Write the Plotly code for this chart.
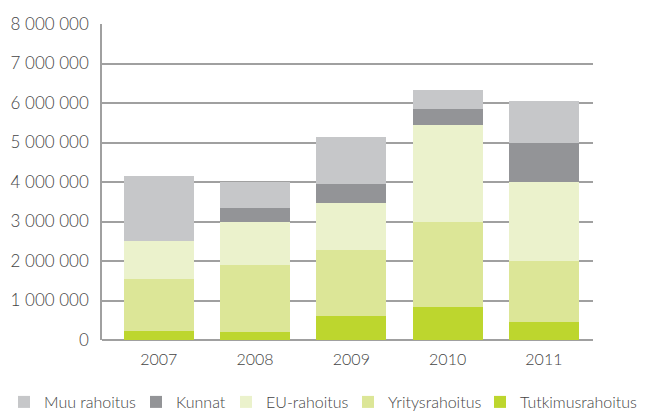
import plotly.graph_objects as go

years = ["2007", "2008", "2009", "2010", "2011"]
tutkimus = [230000, 200000, 600000, 840000, 460000]
yritys = [1305000, 1690000, 1670000, 2160000, 1540000]
eu = [965000, 1110000, 1190000, 2450000, 2000000]
kunnat = [0, 330000, 500000, 410000, 1000000]
muu = [1640000, 670000, 1190000, 480000, 1040000]

series = [
    ("Tutkimusrahoitus", tutkimus, "#bdd62e", "legend5", 480),
    ("Yritysrahoitus", yritys, "#dce697", "legend4", 348),
    ("EU-rahoitus", eu, "#ebf2cc", "legend3", 226),
    ("Kunnat", kunnat, "#939497", "legend2", 136),
    ("Muu rahoitus", muu, "#c6c7c9", "legend", 4),
]

fig = go.Figure()
legends = {}
for name, vals, col, lg, lx in series:
    fig.add_trace(go.Bar(x=years, y=vals, name=name, legend=lg, showlegend=True,
                         marker=dict(color=col, line=dict(width=0))))
    legends[lg] = dict(xref="container", yref="container", x=lx / 647, xanchor="left",
                       y=1 - 385 / 412, yanchor="top", orientation="h",
                       font=dict(family="Lato", size=16, color="#444444", weight=300),
                       itemwidth=30, bgcolor="rgba(0,0,0,0)", borderwidth=0)

fig.update_layout(
    showlegend=True,
    barmode="stack",
    bargap=0.273,
    width=647, height=412,
    margin=dict(l=102, r=54, t=24, b=72, autoexpand=False),
    paper_bgcolor="white", plot_bgcolor="white",
    separators=", ",
    font=dict(family="Lato", size=17, color="#444444", weight=300),
    xaxis=dict(range=[-0.59, 4.51], showgrid=False, showline=False, ticks="",
               ticklabelstandoff=8, tickfont=dict(size=16)),
    yaxis=dict(range=[0, 8000000], dtick=1000000, tickformat=",d",
               showgrid=True, gridcolor="#a0a0a0", gridwidth=1.5,
               showline=True, linecolor="#a0a0a0", linewidth=1.5,
               zeroline=True, zerolinecolor="#a0a0a0", zerolinewidth=1.5,
               ticks="", ticklabelstandoff=8),
    **legends,
)

fig.write_html("out.html", config={"displayModeBar": False},
               post_script="document.body.style.margin='0';document.body.style.overflow='hidden';")
